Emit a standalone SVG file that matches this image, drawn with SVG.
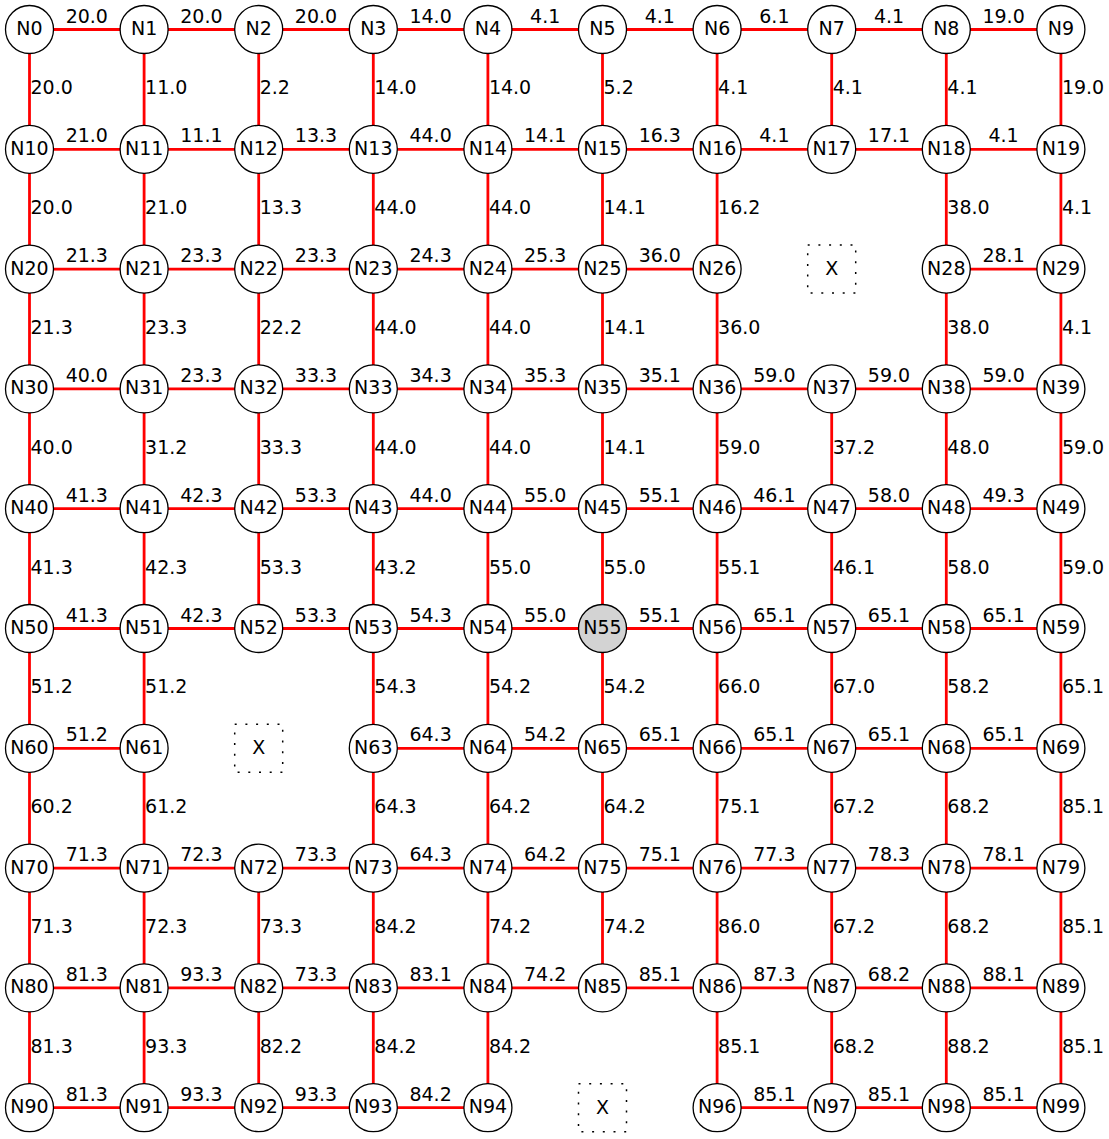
<svg xmlns="http://www.w3.org/2000/svg" width="1109" height="1139" viewBox="0 0 1109 1139">
<style>
text{font-family:"DejaVu Sans","Liberation Sans",sans-serif;font-size:19px;fill:#000}
.node circle{fill:#fff;stroke:#000;stroke-width:1.3}
.node text{text-anchor:middle}
.node.sel circle{fill:#d3d3d3}
.miss rect{fill:none;stroke:#000;stroke-width:1.5;stroke-dasharray:2 8.7}
.miss text{text-anchor:middle}
#edges path{stroke:#ff0000;stroke-width:2.8;fill:none}
.h{text-anchor:middle}
.v{text-anchor:start}
</style>
<rect width="1109" height="1139" fill="#fff"/>
<g id="edges">
<path d="M29.5 29.5H144.1"/><path d="M144.1 29.5H258.7"/><path d="M258.7 29.5H373.3"/><path d="M373.3 29.5H487.9"/><path d="M487.9 29.5H602.5"/><path d="M602.5 29.5H717.1"/><path d="M717.1 29.5H831.7"/><path d="M831.7 29.5H946.3"/><path d="M946.3 29.5H1060.9"/>
<path d="M29.5 149.3H144.1"/><path d="M144.1 149.3H258.7"/><path d="M258.7 149.3H373.3"/><path d="M373.3 149.3H487.9"/><path d="M487.9 149.3H602.5"/><path d="M602.5 149.3H717.1"/><path d="M717.1 149.3H831.7"/><path d="M831.7 149.3H946.3"/><path d="M946.3 149.3H1060.9"/>
<path d="M29.5 269.1H144.1"/><path d="M144.1 269.1H258.7"/><path d="M258.7 269.1H373.3"/><path d="M373.3 269.1H487.9"/><path d="M487.9 269.1H602.5"/><path d="M602.5 269.1H717.1"/><path d="M946.3 269.1H1060.9"/>
<path d="M29.5 388.9H144.1"/><path d="M144.1 388.9H258.7"/><path d="M258.7 388.9H373.3"/><path d="M373.3 388.9H487.9"/><path d="M487.9 388.9H602.5"/><path d="M602.5 388.9H717.1"/><path d="M717.1 388.9H831.7"/><path d="M831.7 388.9H946.3"/><path d="M946.3 388.9H1060.9"/>
<path d="M29.5 508.7H144.1"/><path d="M144.1 508.7H258.7"/><path d="M258.7 508.7H373.3"/><path d="M373.3 508.7H487.9"/><path d="M487.9 508.7H602.5"/><path d="M602.5 508.7H717.1"/><path d="M717.1 508.7H831.7"/><path d="M831.7 508.7H946.3"/><path d="M946.3 508.7H1060.9"/>
<path d="M29.5 628.5H144.1"/><path d="M144.1 628.5H258.7"/><path d="M258.7 628.5H373.3"/><path d="M373.3 628.5H487.9"/><path d="M487.9 628.5H602.5"/><path d="M602.5 628.5H717.1"/><path d="M717.1 628.5H831.7"/><path d="M831.7 628.5H946.3"/><path d="M946.3 628.5H1060.9"/>
<path d="M29.5 748.3H144.1"/><path d="M373.3 748.3H487.9"/><path d="M487.9 748.3H602.5"/><path d="M602.5 748.3H717.1"/><path d="M717.1 748.3H831.7"/><path d="M831.7 748.3H946.3"/><path d="M946.3 748.3H1060.9"/>
<path d="M29.5 868.1H144.1"/><path d="M144.1 868.1H258.7"/><path d="M258.7 868.1H373.3"/><path d="M373.3 868.1H487.9"/><path d="M487.9 868.1H602.5"/><path d="M602.5 868.1H717.1"/><path d="M717.1 868.1H831.7"/><path d="M831.7 868.1H946.3"/><path d="M946.3 868.1H1060.9"/>
<path d="M29.5 987.9H144.1"/><path d="M144.1 987.9H258.7"/><path d="M258.7 987.9H373.3"/><path d="M373.3 987.9H487.9"/><path d="M487.9 987.9H602.5"/><path d="M602.5 987.9H717.1"/><path d="M717.1 987.9H831.7"/><path d="M831.7 987.9H946.3"/><path d="M946.3 987.9H1060.9"/>
<path d="M29.5 1107.7H144.1"/><path d="M144.1 1107.7H258.7"/><path d="M258.7 1107.7H373.3"/><path d="M373.3 1107.7H487.9"/><path d="M717.1 1107.7H831.7"/><path d="M831.7 1107.7H946.3"/><path d="M946.3 1107.7H1060.9"/>
<path d="M29.5 29.5V149.3"/><path d="M144.1 29.5V149.3"/><path d="M258.7 29.5V149.3"/><path d="M373.3 29.5V149.3"/><path d="M487.9 29.5V149.3"/><path d="M602.5 29.5V149.3"/><path d="M717.1 29.5V149.3"/><path d="M831.7 29.5V149.3"/><path d="M946.3 29.5V149.3"/><path d="M1060.9 29.5V149.3"/>
<path d="M29.5 149.3V269.1"/><path d="M144.1 149.3V269.1"/><path d="M258.7 149.3V269.1"/><path d="M373.3 149.3V269.1"/><path d="M487.9 149.3V269.1"/><path d="M602.5 149.3V269.1"/><path d="M717.1 149.3V269.1"/><path d="M946.3 149.3V269.1"/><path d="M1060.9 149.3V269.1"/>
<path d="M29.5 269.1V388.9"/><path d="M144.1 269.1V388.9"/><path d="M258.7 269.1V388.9"/><path d="M373.3 269.1V388.9"/><path d="M487.9 269.1V388.9"/><path d="M602.5 269.1V388.9"/><path d="M717.1 269.1V388.9"/><path d="M946.3 269.1V388.9"/><path d="M1060.9 269.1V388.9"/>
<path d="M29.5 388.9V508.7"/><path d="M144.1 388.9V508.7"/><path d="M258.7 388.9V508.7"/><path d="M373.3 388.9V508.7"/><path d="M487.9 388.9V508.7"/><path d="M602.5 388.9V508.7"/><path d="M717.1 388.9V508.7"/><path d="M831.7 388.9V508.7"/><path d="M946.3 388.9V508.7"/><path d="M1060.9 388.9V508.7"/>
<path d="M29.5 508.7V628.5"/><path d="M144.1 508.7V628.5"/><path d="M258.7 508.7V628.5"/><path d="M373.3 508.7V628.5"/><path d="M487.9 508.7V628.5"/><path d="M602.5 508.7V628.5"/><path d="M717.1 508.7V628.5"/><path d="M831.7 508.7V628.5"/><path d="M946.3 508.7V628.5"/><path d="M1060.9 508.7V628.5"/>
<path d="M29.5 628.5V748.3"/><path d="M144.1 628.5V748.3"/><path d="M373.3 628.5V748.3"/><path d="M487.9 628.5V748.3"/><path d="M602.5 628.5V748.3"/><path d="M717.1 628.5V748.3"/><path d="M831.7 628.5V748.3"/><path d="M946.3 628.5V748.3"/><path d="M1060.9 628.5V748.3"/>
<path d="M29.5 748.3V868.1"/><path d="M144.1 748.3V868.1"/><path d="M373.3 748.3V868.1"/><path d="M487.9 748.3V868.1"/><path d="M602.5 748.3V868.1"/><path d="M717.1 748.3V868.1"/><path d="M831.7 748.3V868.1"/><path d="M946.3 748.3V868.1"/><path d="M1060.9 748.3V868.1"/>
<path d="M29.5 868.1V987.9"/><path d="M144.1 868.1V987.9"/><path d="M258.7 868.1V987.9"/><path d="M373.3 868.1V987.9"/><path d="M487.9 868.1V987.9"/><path d="M602.5 868.1V987.9"/><path d="M717.1 868.1V987.9"/><path d="M831.7 868.1V987.9"/><path d="M946.3 868.1V987.9"/><path d="M1060.9 868.1V987.9"/>
<path d="M29.5 987.9V1107.7"/><path d="M144.1 987.9V1107.7"/><path d="M258.7 987.9V1107.7"/><path d="M373.3 987.9V1107.7"/><path d="M487.9 987.9V1107.7"/><path d="M717.1 987.9V1107.7"/><path d="M831.7 987.9V1107.7"/><path d="M946.3 987.9V1107.7"/><path d="M1060.9 987.9V1107.7"/>
<g id="edge-labels">
<text class="h" x="86.8" y="22.5">20.0</text><text class="h" x="201.4" y="22.5">20.0</text><text class="h" x="316" y="22.5">20.0</text><text class="h" x="430.6" y="22.5">14.0</text><text class="h" x="545.2" y="22.5">4.1</text><text class="h" x="659.8" y="22.5">4.1</text><text class="h" x="774.4" y="22.5">6.1</text><text class="h" x="889" y="22.5">4.1</text><text class="h" x="1003.6" y="22.5">19.0</text>
<text class="h" x="86.8" y="142.3">21.0</text><text class="h" x="201.4" y="142.3">11.1</text><text class="h" x="316" y="142.3">13.3</text><text class="h" x="430.6" y="142.3">44.0</text><text class="h" x="545.2" y="142.3">14.1</text><text class="h" x="659.8" y="142.3">16.3</text><text class="h" x="774.4" y="142.3">4.1</text><text class="h" x="889" y="142.3">17.1</text><text class="h" x="1003.6" y="142.3">4.1</text>
<text class="h" x="86.8" y="262.1">21.3</text><text class="h" x="201.4" y="262.1">23.3</text><text class="h" x="316" y="262.1">23.3</text><text class="h" x="430.6" y="262.1">24.3</text><text class="h" x="545.2" y="262.1">25.3</text><text class="h" x="659.8" y="262.1">36.0</text><text class="h" x="1003.6" y="262.1">28.1</text>
<text class="h" x="86.8" y="381.9">40.0</text><text class="h" x="201.4" y="381.9">23.3</text><text class="h" x="316" y="381.9">33.3</text><text class="h" x="430.6" y="381.9">34.3</text><text class="h" x="545.2" y="381.9">35.3</text><text class="h" x="659.8" y="381.9">35.1</text><text class="h" x="774.4" y="381.9">59.0</text><text class="h" x="889" y="381.9">59.0</text><text class="h" x="1003.6" y="381.9">59.0</text>
<text class="h" x="86.8" y="501.7">41.3</text><text class="h" x="201.4" y="501.7">42.3</text><text class="h" x="316" y="501.7">53.3</text><text class="h" x="430.6" y="501.7">44.0</text><text class="h" x="545.2" y="501.7">55.0</text><text class="h" x="659.8" y="501.7">55.1</text><text class="h" x="774.4" y="501.7">46.1</text><text class="h" x="889" y="501.7">58.0</text><text class="h" x="1003.6" y="501.7">49.3</text>
<text class="h" x="86.8" y="621.5">41.3</text><text class="h" x="201.4" y="621.5">42.3</text><text class="h" x="316" y="621.5">53.3</text><text class="h" x="430.6" y="621.5">54.3</text><text class="h" x="545.2" y="621.5">55.0</text><text class="h" x="659.8" y="621.5">55.1</text><text class="h" x="774.4" y="621.5">65.1</text><text class="h" x="889" y="621.5">65.1</text><text class="h" x="1003.6" y="621.5">65.1</text>
<text class="h" x="86.8" y="741.3">51.2</text><text class="h" x="430.6" y="741.3">64.3</text><text class="h" x="545.2" y="741.3">54.2</text><text class="h" x="659.8" y="741.3">65.1</text><text class="h" x="774.4" y="741.3">65.1</text><text class="h" x="889" y="741.3">65.1</text><text class="h" x="1003.6" y="741.3">65.1</text>
<text class="h" x="86.8" y="861.1">71.3</text><text class="h" x="201.4" y="861.1">72.3</text><text class="h" x="316" y="861.1">73.3</text><text class="h" x="430.6" y="861.1">64.3</text><text class="h" x="545.2" y="861.1">64.2</text><text class="h" x="659.8" y="861.1">75.1</text><text class="h" x="774.4" y="861.1">77.3</text><text class="h" x="889" y="861.1">78.3</text><text class="h" x="1003.6" y="861.1">78.1</text>
<text class="h" x="86.8" y="980.9">81.3</text><text class="h" x="201.4" y="980.9">93.3</text><text class="h" x="316" y="980.9">73.3</text><text class="h" x="430.6" y="980.9">83.1</text><text class="h" x="545.2" y="980.9">74.2</text><text class="h" x="659.8" y="980.9">85.1</text><text class="h" x="774.4" y="980.9">87.3</text><text class="h" x="889" y="980.9">68.2</text><text class="h" x="1003.6" y="980.9">88.1</text>
<text class="h" x="86.8" y="1100.7">81.3</text><text class="h" x="201.4" y="1100.7">93.3</text><text class="h" x="316" y="1100.7">93.3</text><text class="h" x="430.6" y="1100.7">84.2</text><text class="h" x="774.4" y="1100.7">85.1</text><text class="h" x="889" y="1100.7">85.1</text><text class="h" x="1003.6" y="1100.7">85.1</text>
<text class="v" x="30.5" y="94.4">20.0</text><text class="v" x="145.1" y="94.4">11.0</text><text class="v" x="259.7" y="94.4">2.2</text><text class="v" x="374.3" y="94.4">14.0</text><text class="v" x="488.9" y="94.4">14.0</text><text class="v" x="603.5" y="94.4">5.2</text><text class="v" x="718.1" y="94.4">4.1</text><text class="v" x="832.7" y="94.4">4.1</text><text class="v" x="947.3" y="94.4">4.1</text><text class="v" x="1061.9" y="94.4">19.0</text>
<text class="v" x="30.5" y="214.2">20.0</text><text class="v" x="145.1" y="214.2">21.0</text><text class="v" x="259.7" y="214.2">13.3</text><text class="v" x="374.3" y="214.2">44.0</text><text class="v" x="488.9" y="214.2">44.0</text><text class="v" x="603.5" y="214.2">14.1</text><text class="v" x="718.1" y="214.2">16.2</text><text class="v" x="947.3" y="214.2">38.0</text><text class="v" x="1061.9" y="214.2">4.1</text>
<text class="v" x="30.5" y="334">21.3</text><text class="v" x="145.1" y="334">23.3</text><text class="v" x="259.7" y="334">22.2</text><text class="v" x="374.3" y="334">44.0</text><text class="v" x="488.9" y="334">44.0</text><text class="v" x="603.5" y="334">14.1</text><text class="v" x="718.1" y="334">36.0</text><text class="v" x="947.3" y="334">38.0</text><text class="v" x="1061.9" y="334">4.1</text>
<text class="v" x="30.5" y="453.8">40.0</text><text class="v" x="145.1" y="453.8">31.2</text><text class="v" x="259.7" y="453.8">33.3</text><text class="v" x="374.3" y="453.8">44.0</text><text class="v" x="488.9" y="453.8">44.0</text><text class="v" x="603.5" y="453.8">14.1</text><text class="v" x="718.1" y="453.8">59.0</text><text class="v" x="832.7" y="453.8">37.2</text><text class="v" x="947.3" y="453.8">48.0</text><text class="v" x="1061.9" y="453.8">59.0</text>
<text class="v" x="30.5" y="573.6">41.3</text><text class="v" x="145.1" y="573.6">42.3</text><text class="v" x="259.7" y="573.6">53.3</text><text class="v" x="374.3" y="573.6">43.2</text><text class="v" x="488.9" y="573.6">55.0</text><text class="v" x="603.5" y="573.6">55.0</text><text class="v" x="718.1" y="573.6">55.1</text><text class="v" x="832.7" y="573.6">46.1</text><text class="v" x="947.3" y="573.6">58.0</text><text class="v" x="1061.9" y="573.6">59.0</text>
<text class="v" x="30.5" y="693.4">51.2</text><text class="v" x="145.1" y="693.4">51.2</text><text class="v" x="374.3" y="693.4">54.3</text><text class="v" x="488.9" y="693.4">54.2</text><text class="v" x="603.5" y="693.4">54.2</text><text class="v" x="718.1" y="693.4">66.0</text><text class="v" x="832.7" y="693.4">67.0</text><text class="v" x="947.3" y="693.4">58.2</text><text class="v" x="1061.9" y="693.4">65.1</text>
<text class="v" x="30.5" y="813.2">60.2</text><text class="v" x="145.1" y="813.2">61.2</text><text class="v" x="374.3" y="813.2">64.3</text><text class="v" x="488.9" y="813.2">64.2</text><text class="v" x="603.5" y="813.2">64.2</text><text class="v" x="718.1" y="813.2">75.1</text><text class="v" x="832.7" y="813.2">67.2</text><text class="v" x="947.3" y="813.2">68.2</text><text class="v" x="1061.9" y="813.2">85.1</text>
<text class="v" x="30.5" y="933">71.3</text><text class="v" x="145.1" y="933">72.3</text><text class="v" x="259.7" y="933">73.3</text><text class="v" x="374.3" y="933">84.2</text><text class="v" x="488.9" y="933">74.2</text><text class="v" x="603.5" y="933">74.2</text><text class="v" x="718.1" y="933">86.0</text><text class="v" x="832.7" y="933">67.2</text><text class="v" x="947.3" y="933">68.2</text><text class="v" x="1061.9" y="933">85.1</text>
<text class="v" x="30.5" y="1052.8">81.3</text><text class="v" x="145.1" y="1052.8">93.3</text><text class="v" x="259.7" y="1052.8">82.2</text><text class="v" x="374.3" y="1052.8">84.2</text><text class="v" x="488.9" y="1052.8">84.2</text><text class="v" x="718.1" y="1052.8">85.1</text><text class="v" x="832.7" y="1052.8">68.2</text><text class="v" x="947.3" y="1052.8">88.2</text><text class="v" x="1061.9" y="1052.8">85.1</text>
</g>
</g>
<g id="nodes">
<g id="N0" class="node" transform="translate(29.5,29.5)"><circle r="24"/><text y="5.5">N0</text></g>
<g id="N1" class="node" transform="translate(144.1,29.5)"><circle r="24"/><text y="5.5">N1</text></g>
<g id="N2" class="node" transform="translate(258.7,29.5)"><circle r="24"/><text y="5.5">N2</text></g>
<g id="N3" class="node" transform="translate(373.3,29.5)"><circle r="24"/><text y="5.5">N3</text></g>
<g id="N4" class="node" transform="translate(487.9,29.5)"><circle r="24"/><text y="5.5">N4</text></g>
<g id="N5" class="node" transform="translate(602.5,29.5)"><circle r="24"/><text y="5.5">N5</text></g>
<g id="N6" class="node" transform="translate(717.1,29.5)"><circle r="24"/><text y="5.5">N6</text></g>
<g id="N7" class="node" transform="translate(831.7,29.5)"><circle r="24"/><text y="5.5">N7</text></g>
<g id="N8" class="node" transform="translate(946.3,29.5)"><circle r="24"/><text y="5.5">N8</text></g>
<g id="N9" class="node" transform="translate(1060.9,29.5)"><circle r="24"/><text y="5.5">N9</text></g>
<g id="N10" class="node" transform="translate(29.5,149.3)"><circle r="24"/><text y="5.5">N10</text></g>
<g id="N11" class="node" transform="translate(144.1,149.3)"><circle r="24"/><text y="5.5">N11</text></g>
<g id="N12" class="node" transform="translate(258.7,149.3)"><circle r="24"/><text y="5.5">N12</text></g>
<g id="N13" class="node" transform="translate(373.3,149.3)"><circle r="24"/><text y="5.5">N13</text></g>
<g id="N14" class="node" transform="translate(487.9,149.3)"><circle r="24"/><text y="5.5">N14</text></g>
<g id="N15" class="node" transform="translate(602.5,149.3)"><circle r="24"/><text y="5.5">N15</text></g>
<g id="N16" class="node" transform="translate(717.1,149.3)"><circle r="24"/><text y="5.5">N16</text></g>
<g id="N17" class="node" transform="translate(831.7,149.3)"><circle r="24"/><text y="5.5">N17</text></g>
<g id="N18" class="node" transform="translate(946.3,149.3)"><circle r="24"/><text y="5.5">N18</text></g>
<g id="N19" class="node" transform="translate(1060.9,149.3)"><circle r="24"/><text y="5.5">N19</text></g>
<g id="N20" class="node" transform="translate(29.5,269.1)"><circle r="24"/><text y="5.5">N20</text></g>
<g id="N21" class="node" transform="translate(144.1,269.1)"><circle r="24"/><text y="5.5">N21</text></g>
<g id="N22" class="node" transform="translate(258.7,269.1)"><circle r="24"/><text y="5.5">N22</text></g>
<g id="N23" class="node" transform="translate(373.3,269.1)"><circle r="24"/><text y="5.5">N23</text></g>
<g id="N24" class="node" transform="translate(487.9,269.1)"><circle r="24"/><text y="5.5">N24</text></g>
<g id="N25" class="node" transform="translate(602.5,269.1)"><circle r="24"/><text y="5.5">N25</text></g>
<g id="N26" class="node" transform="translate(717.1,269.1)"><circle r="24"/><text y="5.5">N26</text></g>
<g id="N27" class="miss" transform="translate(831.7,269.1)"><rect x="-24" y="-24" width="48" height="48"/><text y="6">X</text></g>
<g id="N28" class="node" transform="translate(946.3,269.1)"><circle r="24"/><text y="5.5">N28</text></g>
<g id="N29" class="node" transform="translate(1060.9,269.1)"><circle r="24"/><text y="5.5">N29</text></g>
<g id="N30" class="node" transform="translate(29.5,388.9)"><circle r="24"/><text y="5.5">N30</text></g>
<g id="N31" class="node" transform="translate(144.1,388.9)"><circle r="24"/><text y="5.5">N31</text></g>
<g id="N32" class="node" transform="translate(258.7,388.9)"><circle r="24"/><text y="5.5">N32</text></g>
<g id="N33" class="node" transform="translate(373.3,388.9)"><circle r="24"/><text y="5.5">N33</text></g>
<g id="N34" class="node" transform="translate(487.9,388.9)"><circle r="24"/><text y="5.5">N34</text></g>
<g id="N35" class="node" transform="translate(602.5,388.9)"><circle r="24"/><text y="5.5">N35</text></g>
<g id="N36" class="node" transform="translate(717.1,388.9)"><circle r="24"/><text y="5.5">N36</text></g>
<g id="N37" class="node" transform="translate(831.7,388.9)"><circle r="24"/><text y="5.5">N37</text></g>
<g id="N38" class="node" transform="translate(946.3,388.9)"><circle r="24"/><text y="5.5">N38</text></g>
<g id="N39" class="node" transform="translate(1060.9,388.9)"><circle r="24"/><text y="5.5">N39</text></g>
<g id="N40" class="node" transform="translate(29.5,508.7)"><circle r="24"/><text y="5.5">N40</text></g>
<g id="N41" class="node" transform="translate(144.1,508.7)"><circle r="24"/><text y="5.5">N41</text></g>
<g id="N42" class="node" transform="translate(258.7,508.7)"><circle r="24"/><text y="5.5">N42</text></g>
<g id="N43" class="node" transform="translate(373.3,508.7)"><circle r="24"/><text y="5.5">N43</text></g>
<g id="N44" class="node" transform="translate(487.9,508.7)"><circle r="24"/><text y="5.5">N44</text></g>
<g id="N45" class="node" transform="translate(602.5,508.7)"><circle r="24"/><text y="5.5">N45</text></g>
<g id="N46" class="node" transform="translate(717.1,508.7)"><circle r="24"/><text y="5.5">N46</text></g>
<g id="N47" class="node" transform="translate(831.7,508.7)"><circle r="24"/><text y="5.5">N47</text></g>
<g id="N48" class="node" transform="translate(946.3,508.7)"><circle r="24"/><text y="5.5">N48</text></g>
<g id="N49" class="node" transform="translate(1060.9,508.7)"><circle r="24"/><text y="5.5">N49</text></g>
<g id="N50" class="node" transform="translate(29.5,628.5)"><circle r="24"/><text y="5.5">N50</text></g>
<g id="N51" class="node" transform="translate(144.1,628.5)"><circle r="24"/><text y="5.5">N51</text></g>
<g id="N52" class="node" transform="translate(258.7,628.5)"><circle r="24"/><text y="5.5">N52</text></g>
<g id="N53" class="node" transform="translate(373.3,628.5)"><circle r="24"/><text y="5.5">N53</text></g>
<g id="N54" class="node" transform="translate(487.9,628.5)"><circle r="24"/><text y="5.5">N54</text></g>
<g id="N55" class="node sel" transform="translate(602.5,628.5)"><circle r="24"/><text y="5.5">N55</text></g>
<g id="N56" class="node" transform="translate(717.1,628.5)"><circle r="24"/><text y="5.5">N56</text></g>
<g id="N57" class="node" transform="translate(831.7,628.5)"><circle r="24"/><text y="5.5">N57</text></g>
<g id="N58" class="node" transform="translate(946.3,628.5)"><circle r="24"/><text y="5.5">N58</text></g>
<g id="N59" class="node" transform="translate(1060.9,628.5)"><circle r="24"/><text y="5.5">N59</text></g>
<g id="N60" class="node" transform="translate(29.5,748.3)"><circle r="24"/><text y="5.5">N60</text></g>
<g id="N61" class="node" transform="translate(144.1,748.3)"><circle r="24"/><text y="5.5">N61</text></g>
<g id="N62" class="miss" transform="translate(258.7,748.3)"><rect x="-24" y="-24" width="48" height="48"/><text y="6">X</text></g>
<g id="N63" class="node" transform="translate(373.3,748.3)"><circle r="24"/><text y="5.5">N63</text></g>
<g id="N64" class="node" transform="translate(487.9,748.3)"><circle r="24"/><text y="5.5">N64</text></g>
<g id="N65" class="node" transform="translate(602.5,748.3)"><circle r="24"/><text y="5.5">N65</text></g>
<g id="N66" class="node" transform="translate(717.1,748.3)"><circle r="24"/><text y="5.5">N66</text></g>
<g id="N67" class="node" transform="translate(831.7,748.3)"><circle r="24"/><text y="5.5">N67</text></g>
<g id="N68" class="node" transform="translate(946.3,748.3)"><circle r="24"/><text y="5.5">N68</text></g>
<g id="N69" class="node" transform="translate(1060.9,748.3)"><circle r="24"/><text y="5.5">N69</text></g>
<g id="N70" class="node" transform="translate(29.5,868.1)"><circle r="24"/><text y="5.5">N70</text></g>
<g id="N71" class="node" transform="translate(144.1,868.1)"><circle r="24"/><text y="5.5">N71</text></g>
<g id="N72" class="node" transform="translate(258.7,868.1)"><circle r="24"/><text y="5.5">N72</text></g>
<g id="N73" class="node" transform="translate(373.3,868.1)"><circle r="24"/><text y="5.5">N73</text></g>
<g id="N74" class="node" transform="translate(487.9,868.1)"><circle r="24"/><text y="5.5">N74</text></g>
<g id="N75" class="node" transform="translate(602.5,868.1)"><circle r="24"/><text y="5.5">N75</text></g>
<g id="N76" class="node" transform="translate(717.1,868.1)"><circle r="24"/><text y="5.5">N76</text></g>
<g id="N77" class="node" transform="translate(831.7,868.1)"><circle r="24"/><text y="5.5">N77</text></g>
<g id="N78" class="node" transform="translate(946.3,868.1)"><circle r="24"/><text y="5.5">N78</text></g>
<g id="N79" class="node" transform="translate(1060.9,868.1)"><circle r="24"/><text y="5.5">N79</text></g>
<g id="N80" class="node" transform="translate(29.5,987.9)"><circle r="24"/><text y="5.5">N80</text></g>
<g id="N81" class="node" transform="translate(144.1,987.9)"><circle r="24"/><text y="5.5">N81</text></g>
<g id="N82" class="node" transform="translate(258.7,987.9)"><circle r="24"/><text y="5.5">N82</text></g>
<g id="N83" class="node" transform="translate(373.3,987.9)"><circle r="24"/><text y="5.5">N83</text></g>
<g id="N84" class="node" transform="translate(487.9,987.9)"><circle r="24"/><text y="5.5">N84</text></g>
<g id="N85" class="node" transform="translate(602.5,987.9)"><circle r="24"/><text y="5.5">N85</text></g>
<g id="N86" class="node" transform="translate(717.1,987.9)"><circle r="24"/><text y="5.5">N86</text></g>
<g id="N87" class="node" transform="translate(831.7,987.9)"><circle r="24"/><text y="5.5">N87</text></g>
<g id="N88" class="node" transform="translate(946.3,987.9)"><circle r="24"/><text y="5.5">N88</text></g>
<g id="N89" class="node" transform="translate(1060.9,987.9)"><circle r="24"/><text y="5.5">N89</text></g>
<g id="N90" class="node" transform="translate(29.5,1107.7)"><circle r="24"/><text y="5.5">N90</text></g>
<g id="N91" class="node" transform="translate(144.1,1107.7)"><circle r="24"/><text y="5.5">N91</text></g>
<g id="N92" class="node" transform="translate(258.7,1107.7)"><circle r="24"/><text y="5.5">N92</text></g>
<g id="N93" class="node" transform="translate(373.3,1107.7)"><circle r="24"/><text y="5.5">N93</text></g>
<g id="N94" class="node" transform="translate(487.9,1107.7)"><circle r="24"/><text y="5.5">N94</text></g>
<g id="N95" class="miss" transform="translate(602.5,1107.7)"><rect x="-24" y="-24" width="48" height="48"/><text y="6">X</text></g>
<g id="N96" class="node" transform="translate(717.1,1107.7)"><circle r="24"/><text y="5.5">N96</text></g>
<g id="N97" class="node" transform="translate(831.7,1107.7)"><circle r="24"/><text y="5.5">N97</text></g>
<g id="N98" class="node" transform="translate(946.3,1107.7)"><circle r="24"/><text y="5.5">N98</text></g>
<g id="N99" class="node" transform="translate(1060.9,1107.7)"><circle r="24"/><text y="5.5">N99</text></g>
</g>
</svg>
